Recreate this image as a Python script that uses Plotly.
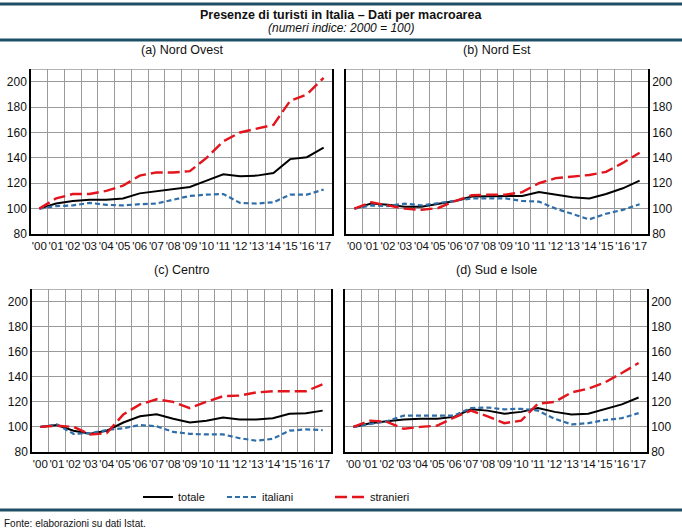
import plotly.graph_objects as go

years = ["'00", "'01", "'02", "'03", "'04", "'05", "'06", "'07", "'08", "'09",
         "'10", "'11", "'12", "'13", "'14", "'15", "'16", "'17"]

panel_titles = ["(a) Nord Ovest", "(b) Nord Est", "(c) Centro", "(d) Sud e Isole"]

# Nord Ovest
no_totale = [100, 104, 106, 107, 107, 108, 112, 113.5, 115, 117, 122, 127, 125.5, 126, 128, 139, 140.5, 148]
no_italiani = [100, 102, 102.5, 104.5, 103, 102.5, 103.5, 104, 107, 110, 111, 111.5, 104.5, 104, 105, 111, 111, 115]
no_stranieri = [100, 108, 111.5, 111.5, 114, 118, 126, 128.5, 128.5, 129.5, 140, 153, 160, 163, 166, 185, 190, 203]
# Nord Est
ne_totale = [100, 104, 103, 101.5, 101.5, 103.5, 106, 109.5, 109.5, 109.5, 110, 113, 111, 109, 108, 111.5, 116, 122]
ne_italiani = [100, 102.5, 102, 104, 102.5, 104.5, 106, 108, 108, 108, 106, 105.5, 100, 95.5, 91.5, 96, 99, 103.5]
ne_stranieri = [100, 105, 102.5, 100, 99, 100.5, 106, 110.5, 111, 111, 113, 120, 124, 125.5, 126.5, 129, 136, 144]
# Centro
ce_totale = [100, 101.5, 97, 94.5, 97, 103.5, 108.5, 110, 106.5, 103.5, 105, 107.5, 106, 106, 107, 110.5, 111, 113]
ce_italiani = [100, 102, 94.5, 95, 97.5, 99, 101.5, 100.5, 96, 94.5, 94, 94, 91, 89, 90.5, 97, 98, 97.5]
ce_stranieri = [100, 101, 100, 94, 95, 110, 118, 122, 120, 115, 120, 124.5, 125, 127.5, 128.5, 128.5, 128.5, 134]
# Sud e Isole
si_totale = [100, 103, 104.5, 106, 106.5, 106.5, 108, 114, 113, 110.5, 112, 115, 112, 110, 110.5, 114.5, 118, 123.5]
si_italiani = [100, 102.5, 104.5, 109, 109, 109, 109, 115, 115.5, 114, 114.5, 113, 106.5, 102, 103, 105.5, 107, 111]
si_stranieri = [100, 105, 104, 98.5, 100, 101, 107.5, 113, 108.5, 103, 105, 118.5, 120, 127.5, 130.5, 135.5, 143, 151]

series_names = ["totale", "italiani", "stranieri"]
panels = [
    [no_totale, no_italiani, no_stranieri],
    [ne_totale, ne_italiani, ne_stranieri],
    [ce_totale, ce_italiani, ce_stranieri],
    [si_totale, si_italiani, si_stranieri],
]

y_ticks = [80, 100, 120, 140, 160, 180, 200]

W, H = 682, 530
FONT = "Arial, Liberation Sans, sans-serif"
styles = [
    dict(color="#000000", width=2, dash="solid"),
    dict(color="#2f6ea8", width=2.2, dash="5px,3px"),
    dict(color="#e3141c", width=2.4, dash="12px,5px"),
]
legend_keys = ["legend", "legend2", "legend3"]

# pixel boxes for panels: (x0, x1, ytop, ybottom)
boxes = [(31, 332, 69, 234), (346, 648, 69, 234), (32, 331, 289, 452), (345, 647, 289, 452)]

fig = go.Figure()
layout = dict(
    width=W, height=H, margin=dict(l=0, r=0, t=0, b=0, autoexpand=False),
    paper_bgcolor="white", plot_bgcolor="white",
    font=dict(family=FONT, size=12, color="#111111"),
)
shapes = []
annotations = []
for i, (vals, box) in enumerate(zip(panels, boxes)):
    n = "" if i == 0 else str(i + 1)
    x0, x1, yt, yb = box
    for j, (name, v) in enumerate(zip(series_names, vals)):
        fig.add_trace(go.Scatter(
            x=years, y=v, mode="lines", name=name,
            line=styles[j], xaxis="x" + n, yaxis="y" + n,
            showlegend=(i == 0), legend=legend_keys[j], hoverinfo="skip",
        ))
    layout["xaxis" + n] = dict(
        domain=[x0 / W, x1 / W], anchor="y" + n, type="category",
        range=[-0.5, 17.5], tickson="boundaries", showgrid=True,
        gridcolor="#9a9a9a", gridwidth=1, showline=True, linecolor="#000000",
        linewidth=1.5, ticks="", tickangle=0, automargin=False,
        tickfont=dict(size=11.5, color="#111111"), fixedrange=True,
    )
    layout["yaxis" + n] = dict(
        domain=[1 - yb / H, 1 - yt / H], anchor="x" + n, range=[80, 210],
        tickvals=y_ticks, showgrid=True, gridcolor="#9a9a9a", gridwidth=1,
        showline=True, linecolor="#000000", linewidth=1.5, mirror=True,
        side="left" if i % 2 == 0 else "right", ticks="", automargin=False,
        tickfont=dict(size=12, color="#111111"), zeroline=False, fixedrange=True,
    )
    shapes.append(dict(type="line", xref="x%s domain" % n, yref="y" + n,
                       x0=0, x1=1, y0=210, y1=210,
                       line=dict(color="#9a9a9a", width=1.5)))
    annotations.append(dict(text=panel_titles[i], xref="paper", yref="paper",
                            x=(x0 + x1) / 2 / W, y=1 - (yt - 19) / H,
                            xanchor="center", yanchor="middle", showarrow=False,
                            font=dict(size=12.5, color="#111111")))

rule_color = "#1d4f66"
for yr in [4, 40, 510]:
    shapes.append(dict(type="line", xref="paper", yref="paper", x0=0, x1=1,
                       y0=1 - yr / H, y1=1 - yr / H,
                       line=dict(color=rule_color, width=3)))

annotations += [
    dict(text="<b>Presenze di turisti in Italia – Dati per macroarea</b>",
         xref="paper", yref="paper", x=0.5, y=1 - 15 / H, xanchor="center",
         yanchor="middle", showarrow=False, font=dict(size=12.5, color="#111111")),
    dict(text="<i>(numeri indice: 2000 = 100)</i>",
         xref="paper", yref="paper", x=0.5, y=1 - 28 / H, xanchor="center",
         yanchor="middle", showarrow=False, font=dict(size=12, color="#111111")),
    dict(text="Fonte: elaborazioni su dati Istat.",
         xref="paper", yref="paper", x=2 / W, y=1 - 523 / H, xanchor="left",
         yanchor="middle", showarrow=False, font=dict(size=10, color="#111111")),
]

legend_text_x = [178, 262, 370]
for key, tx in zip(legend_keys, legend_text_x):
    layout[key] = dict(x=(tx - 40) / W, y=1 - 497 / H, xanchor="left",
                       yanchor="middle", orientation="h", bgcolor="rgba(0,0,0,0)",
                       font=dict(size=11, color="#111111"))

layout["shapes"] = shapes
layout["annotations"] = annotations
fig.update_layout(**layout)
fig.write_html(
    "out.html",
    config={"displayModeBar": False},
    post_script="document.body.style.margin='0';document.body.style.overflow='hidden';",
)
